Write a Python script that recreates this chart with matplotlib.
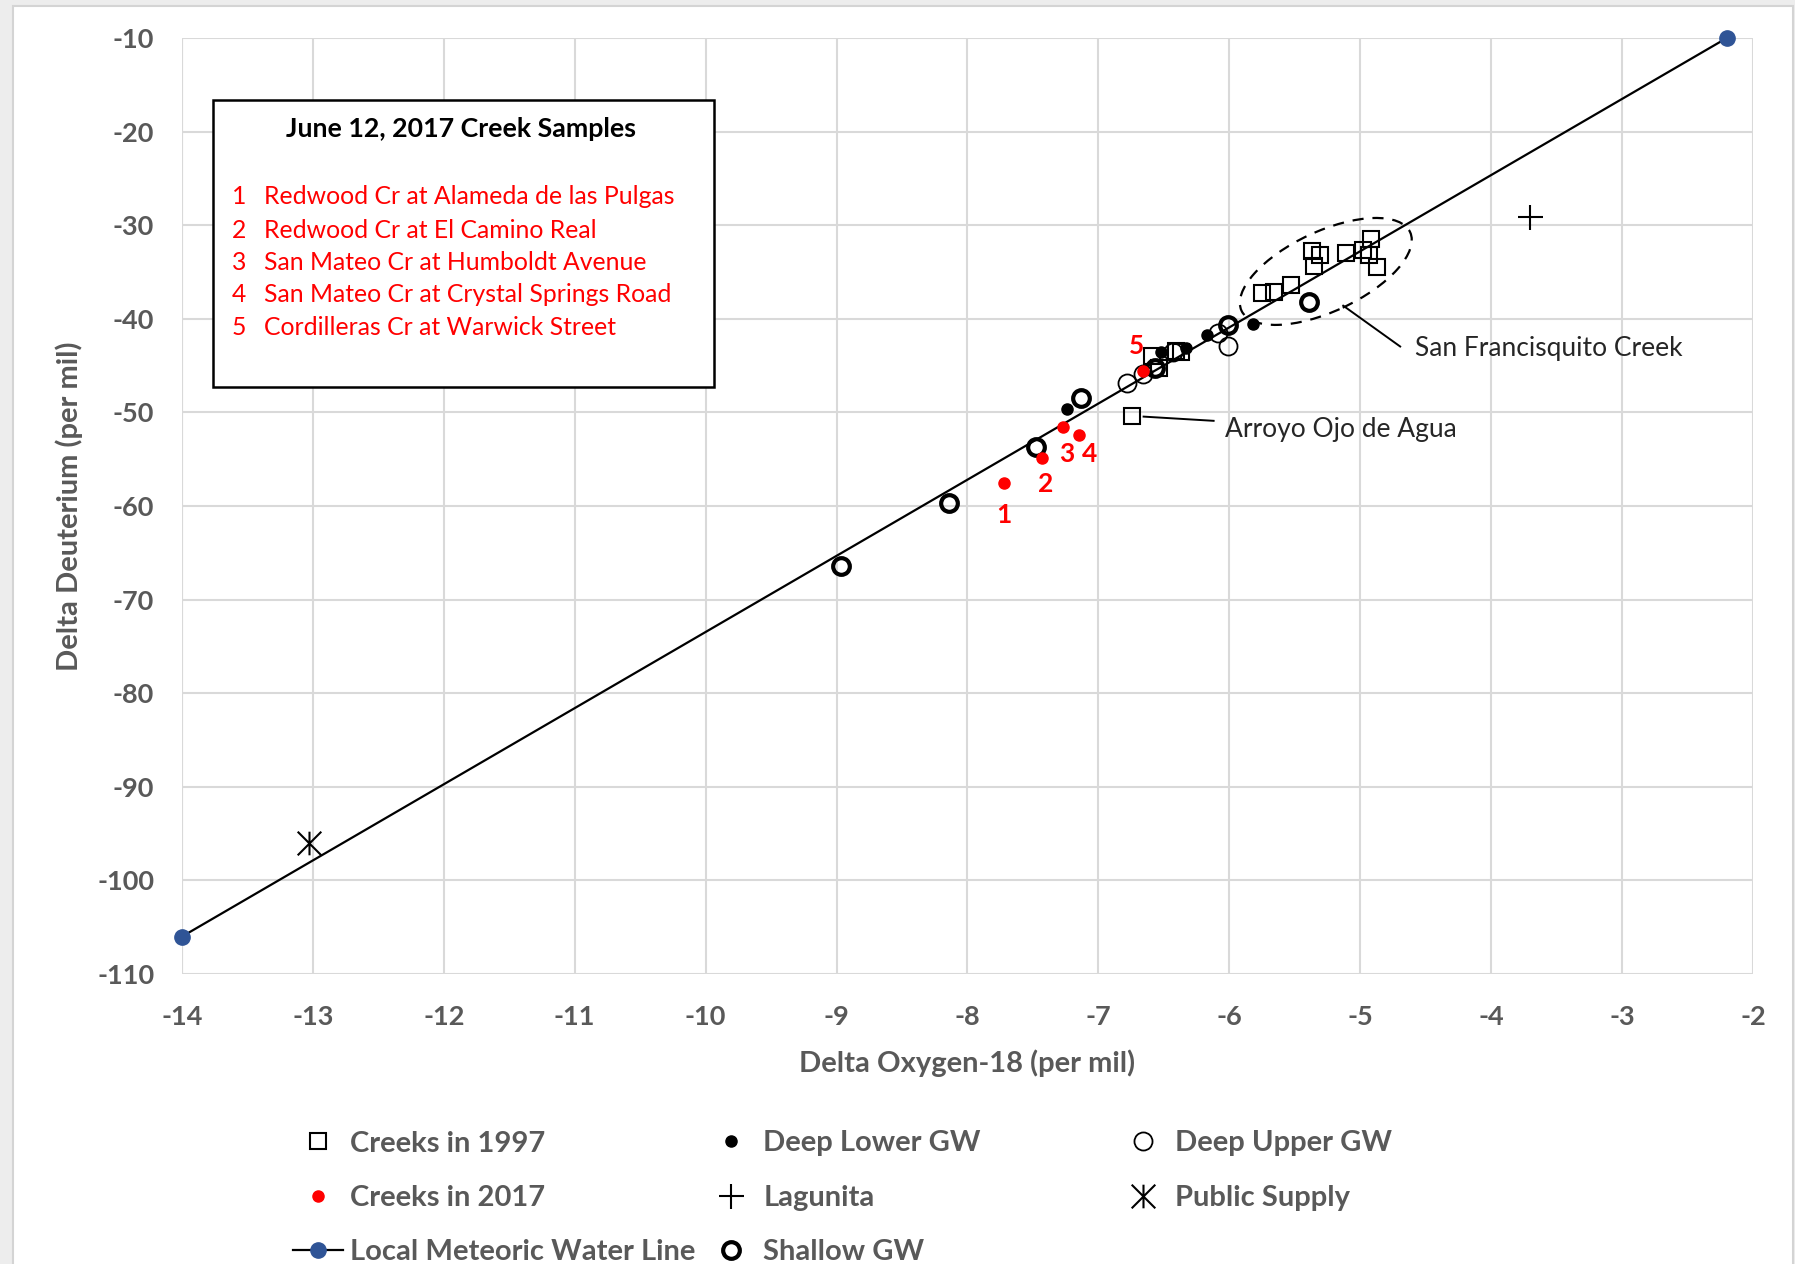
import matplotlib
matplotlib.use("Agg")
import matplotlib.pyplot as plt
import matplotlib.transforms as mtransforms
from matplotlib.lines import Line2D
from matplotlib.patches import Ellipse, Rectangle
from matplotlib.path import Path

plt.rcParams['font.family'] = ['Lato', 'DejaVu Sans']
plt.rcParams['axes.unicode_minus'] = False

# ---- data (delta O-18, delta D) ----
creeks_1997_x = [-5.75, -5.66, -5.53, -5.37, -5.31, -5.35, -5.11, -4.98, -4.92, -4.93, -4.87,
                 -6.59, -6.54, -6.41, -6.37, -6.74]
creeks_1997_y = [-37.2, -37.1, -36.4, -32.8, -33.2, -34.4, -33.0, -32.7, -31.5, -33.2, -34.5,
                 -44.0, -45.3, -43.4, -43.5, -50.4]

creeks_2017_x = [-7.72, -7.43, -7.27, -7.15, -6.66]
creeks_2017_y = [-57.5, -54.9, -51.6, -52.4, -45.6]
creek_ids = ['1', '2', '3', '4', '5']

deep_lower_x = [-7.24, -6.52, -6.33, -6.17, -5.82]
deep_lower_y = [-49.6, -43.6, -43.1, -41.7, -40.6]

deep_upper_x = [-6.78, -6.66, -6.43, -6.09, -6.01]
deep_upper_y = [-46.9, -45.9, -43.5, -41.5, -42.9]

shallow_x = [-8.97, -8.14, -7.48, -7.13, -6.57, -6.01, -5.39]
shallow_y = [-66.4, -59.7, -53.7, -48.5, -45.3, -40.7, -38.2]

lagunita_x = [-3.70]
lagunita_y = [-29.1]

public_x = [-13.03]
public_y = [-96.0]

lmwl_x = [-14.0, -2.2]
lmwl_y = [-106.0, -10.0]

box_title = 'June 12, 2017 Creek Samples'
box_items = ['Redwood Cr at Alameda de las Pulgas',
             'Redwood Cr at El Camino Real',
             'San Mateo Cr at Humboldt Avenue',
             'San Mateo Cr at Crystal Springs Road',
             'Cordilleras Cr at Warwick Street']

W, H = 1795, 1264
GRAY = '#595959'
RED = '#FF0000'
BLUE = '#2F5496'


def fx(px):
    return px / W


def fy(py):
    return 1 - py / H


fig = plt.figure(figsize=(W / 100, H / 100), dpi=100, facecolor='#EDEDED')
fig.patches.append(Rectangle((fx(13), fy(H + 20)), fx(1793) - fx(13), fy(6) - fy(H + 20),
                             transform=fig.transFigure, facecolor='white',
                             edgecolor='#D4D4D4', lw=1.5, zorder=-10))

ax = fig.add_axes([fx(182), fy(974), fx(1753) - fx(182), fy(38) - fy(974)])
ax.set_xlim(-14, -2)
ax.set_ylim(-110, -10)
ax.set_xticks(range(-14, -1))
ax.set_yticks(range(-110, 0, 10))
ax.grid(True, color='#D9D9D9', lw=1.5)
ax.set_axisbelow(True)
for s in ax.spines.values():
    s.set_visible(False)
ax.axvline(-14, color='#D9D9D9', lw=1.5, zorder=0)
ax.tick_params(length=0, labelsize=19.5, labelcolor=GRAY)
ax.tick_params(axis='x', pad=22)
ax.tick_params(axis='y', pad=20)
for lab in ax.get_xticklabels() + ax.get_yticklabels():
    lab.set_fontweight('bold')

ax.set_xlabel('Delta Oxygen-18 (per mil)', fontsize=21, fontweight='bold', color=GRAY)
ax.set_ylabel('Delta Deuterium (per mil)', fontsize=21, fontweight='bold', color=GRAY)
ax.xaxis.set_label_coords(0.5, (974 - 1063) / 936, transform=ax.transAxes)
ax.yaxis.set_label_coords((69 - 182) / 1571, 0.5, transform=ax.transAxes)
ax.xaxis.label.set_va('center')
ax.yaxis.label.set_va('center')

# local meteoric water line
ax.plot(lmwl_x, lmwl_y, color='black', lw=1.6, zorder=2)
ax.plot(lmwl_x, lmwl_y, ls='none', marker='o', ms=11, color=BLUE, zorder=3, clip_on=False)

# asterisk marker: vertical bar plus an X
star_path = Path([(0, -1), (0, 1), (-1, -1), (1, 1), (-1, 1), (1, -1)],
                 [Path.MOVETO, Path.LINETO, Path.MOVETO, Path.LINETO, Path.MOVETO, Path.LINETO])

ax.plot(creeks_1997_x, creeks_1997_y, ls='none', marker='s', ms=12, mfc='none',
        mec='black', mew=1.5, zorder=4)
ax.plot(deep_upper_x, deep_upper_y, ls='none', marker='o', ms=13, mfc='none',
        mec='black', mew=1.3, zorder=4)
ax.plot(shallow_x, shallow_y, ls='none', marker='o', ms=12, mfc='none',
        mec='black', mew=3, zorder=5)
ax.plot(deep_lower_x, deep_lower_y, ls='none', marker='o', ms=8, color='black', zorder=5)
ax.plot(creeks_2017_x, creeks_2017_y, ls='none', marker='o', ms=8, color=RED, zorder=6)
ax.plot(lagunita_x, lagunita_y, ls='none', marker='+', ms=18, mew=1.5, color='black', zorder=5)
ax.plot(public_x, public_y, ls='none', marker=star_path, ms=17, mew=1.5, color='black', zorder=5)

# numbers beside the 2017 samples
label_pos = [(-7.72, -61.0), (-7.40, -57.7), (-7.24, -54.4), (-7.07, -54.4), (-6.71, -42.9)]
for t, (lx, ly) in zip(creek_ids, label_pos):
    ax.text(lx, ly, t, color=RED, fontsize=19, fontweight='bold', ha='center', va='center', zorder=7)

# dashed ellipse around San Francisquito Creek samples
etrans = fig.dpi_scale_trans + mtransforms.ScaledTranslation(-5.263, -34.94, ax.transData)
ax.add_patch(Ellipse((0, 0), 1.86, 0.80, angle=25, transform=etrans, fill=False,
                     ls=(0, (5, 4)), lw=1.6, color='black', zorder=3))

ax.plot([-5.13, -4.695], [-38.6, -42.96], color='black', lw=1.4)
ax.text(-4.58, -43.2, 'San Francisquito Creek', fontsize=19, color='#262626', va='center')
ax.plot([-6.655, -6.12], [-50.45, -50.9], color='black', lw=1.4)
ax.text(-6.03, -51.8, 'Arroyo Ojo de Agua', fontsize=19, color='#262626', va='center')

# text box with creek sample list
def axf(px, py):
    return (px - 182) / 1571, (974 - py) / 936


bx0, by0 = axf(213, 387)
bx1, by1 = axf(714, 100)
ax.add_patch(Rectangle((bx0, by0), bx1 - bx0, by1 - by0, transform=ax.transAxes,
                       facecolor='white', edgecolor='black', lw=1.8, zorder=8))
tx, ty = axf(461, 129)
ax.text(tx, ty, box_title, transform=ax.transAxes, fontsize=19.3, fontweight='bold',
        ha='center', va='center', zorder=9)
rows_y = [197, 230, 262, 295, 327.5]
for i, (item, ry) in enumerate(zip(box_items, rows_y)):
    nx, ny = axf(239, ry)
    ax.text(nx, ny, str(i + 1), transform=ax.transAxes, fontsize=17.8, color=RED,
            ha='center', va='center', zorder=9)
    sx, _ = axf(264, ry)
    ax.text(sx, ny, item, transform=ax.transAxes, fontsize=17.8, color=RED,
            ha='left', va='center', zorder=9)

# legend below the plot, three columns
h_c97 = Line2D([], [], ls='none', marker='s', ms=12, mfc='none', mec='black', mew=1.5)
h_c17 = Line2D([], [], ls='none', marker='o', ms=8, color=RED)
h_lmwl = Line2D([], [], color='black', lw=1.6, marker='o', ms=11, mfc=BLUE, mec=BLUE)
h_dl = Line2D([], [], ls='none', marker='o', ms=8, color='black')
h_lag = Line2D([], [], ls='none', marker='+', ms=18, mew=1.5, color='black')
h_sh = Line2D([], [], ls='none', marker='o', ms=12, mfc='none', mec='black', mew=3)
h_du = Line2D([], [], ls='none', marker='o', ms=13, mfc='none', mec='black', mew=1.3)
h_ps = Line2D([], [], ls='none', marker=star_path, ms=17, mew=1.5, color='black')

columns = [
    ([h_c97, h_c17, h_lmwl], ['Creeks in 1997', 'Creeks in 2017', 'Local Meteoric Water Line'], 293),
    ([h_dl, h_lag, h_sh], ['Deep Lower GW', 'Lagunita', 'Shallow GW'], 706),
    ([h_du, h_ps], ['Deep Upper GW', 'Public Supply'], 1118),
]
for handles, labels, x0 in columns:
    leg = fig.legend(handles, labels, loc='upper left', bbox_to_anchor=(fx(x0), fy(1130.5)),
                     frameon=False, fontsize=21, handlelength=1.71, handletextpad=0.26,
                     borderpad=0, borderaxespad=0, labelspacing=0.97)
    for t in leg.get_texts():
        t.set_color(GRAY)
        t.set_fontweight('bold')

fig.savefig('out.png', dpi=100, facecolor=fig.get_facecolor())
